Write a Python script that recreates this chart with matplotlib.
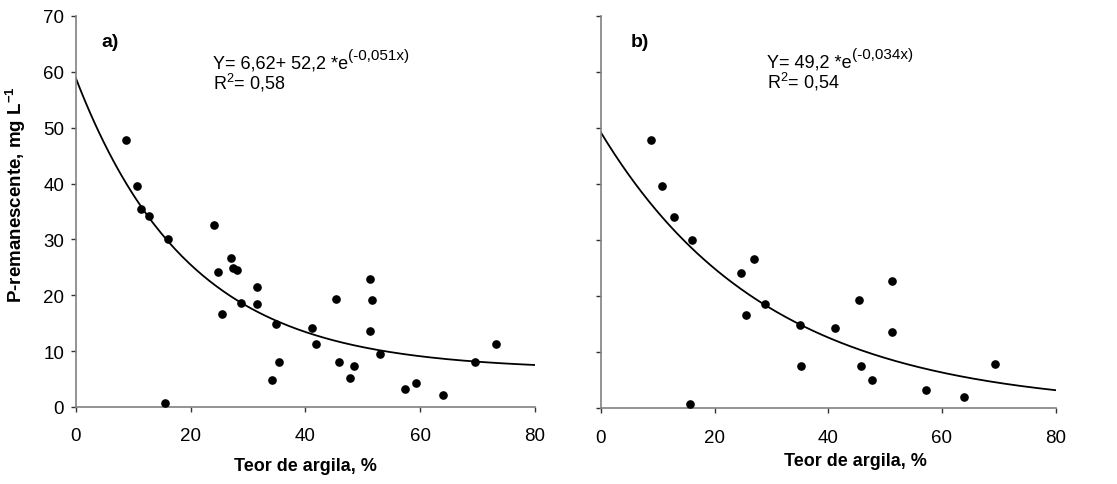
import numpy as np
from matplotlib import pyplot as plt
from matplotlib.transforms import offset_copy

plt.rcParams['font.family'] = ['Liberation Sans', 'DejaVu Sans']
plt.rcParams['mathtext.fontset'] = 'custom'
plt.rcParams['mathtext.rm'] = 'Liberation Sans'
plt.rcParams['mathtext.it'] = 'Liberation Sans'
plt.rcParams['mathtext.bf'] = 'Liberation Sans:bold'
plt.rcParams['mathtext.default'] = 'regular'

# panel a) - all samples
clay_a = [8.8, 10.6, 11.3, 12.8, 16.0, 15.6, 24.1, 24.7, 25.4, 27.0, 27.4,
          28.0, 28.8, 31.5, 31.5, 34.1, 34.9, 35.3, 41.1, 41.9, 45.4, 45.8,
          47.7, 48.4, 51.2, 51.6, 51.2, 52.9, 57.3, 59.3, 63.9, 69.5, 73.2]
prem_a = [47.8, 39.6, 35.5, 34.1, 30.0, 0.7, 32.6, 24.1, 16.6, 26.6, 24.8,
          24.5, 18.6, 21.5, 18.5, 4.8, 14.9, 8.0, 14.2, 11.2, 19.3, 8.0,
          5.1, 7.3, 22.9, 19.2, 13.6, 9.4, 3.2, 4.3, 2.1, 8.1, 11.2]
fit_a = (6.62, 52.2, 0.051)  # y = a + b*exp(-c*x)

# panel b)
clay_b = [8.8, 10.7, 12.8, 16.0, 15.7, 24.6, 25.5, 27.0, 28.8, 35.0,
          35.2, 41.1, 45.4, 45.7, 47.7, 51.2, 51.3, 57.2, 63.9, 69.4]
prem_b = [47.8, 39.6, 34.1, 30.0, 0.7, 24.2, 16.7, 26.7, 18.6, 14.9,
          7.6, 14.3, 19.3, 7.6, 5.1, 22.8, 13.7, 3.2, 2.1, 7.9]
fit_b = (0.0, 49.2, 0.034)

x_ticks = [0, 20, 40, 60, 80]
y_ticks = [0, 10, 20, 30, 40, 50, 60, 70]


def style_axes(ax, show_ylabels):
    ax.set_xlim(0, 80)
    ax.set_ylim(0, 70)
    ax.set_xticks(x_ticks)
    ax.set_yticks(y_ticks)
    for s in ['top', 'right']:
        ax.spines[s].set_visible(False)
    for s in ['left', 'bottom']:
        ax.spines[s].set_color('#808080')
        ax.spines[s].set_linewidth(1.2)
    ax.tick_params(direction='out', length=3.6, width=1, color='#333333',
                   labelsize=13.5)
    ax.tick_params(axis='x', pad=11)
    ax.tick_params(axis='y', pad=5)
    if not show_ylabels:
        ax.set_yticklabels([])
    ax.set_xlabel('Teor de argila, %', fontsize=13, fontweight='bold', labelpad=9)


def draw_panel(ax, clay, prem, fit):
    a, b, c = fit
    xx = np.linspace(0, 80, 200)
    ax.plot(xx, a + b * np.exp(-c * xx), color='black', lw=1.3, zorder=2)
    ax.plot(clay, prem, 'o', color='black', markersize=5.2, zorder=3, clip_on=False)


def equation(ax, x, y, main, sup, r2):
    t = ax.text(x, y, main, fontsize=13, va='baseline')
    fig.canvas.draw()
    w = t.get_window_extent().width
    tr = offset_copy(ax.transData, fig=fig, x=w * 72 / fig.dpi, y=6, units='points')
    ax.text(x, y, sup, fontsize=11, va='baseline', transform=tr)
    ax.text(x, y - 3.7, r2, fontsize=13, va='baseline')


fig = plt.figure(figsize=(11.17, 4.85), dpi=100)
ax1 = fig.add_axes([0.068, 0.159, 0.411, 0.806])
ax2 = fig.add_axes([0.538, 0.156, 0.407, 0.809])

draw_panel(ax1, clay_a, prem_a, fit_a)
style_axes(ax1, True)
ax1.set_ylabel(r'P-remanescente, mg L$\mathbf{^{-1}}$', fontsize=13.5,
               fontweight='bold')
ax1.yaxis.set_label_coords(-0.105, 0.547)
ax1.text(4.5, 65.5, 'a)', fontsize=14, fontweight='bold', va='center')
equation(ax1, 23.9, 60.8, 'Y= 6,62+ 52,2 *e', '(-0,051x)', r'R$^{2}$= 0,58')

draw_panel(ax2, clay_b, prem_b, fit_b)
style_axes(ax2, False)
ax2.xaxis.set_label_coords(0.56, -0.11)
ax2.text(5.3, 65.5, 'b)', fontsize=14, fontweight='bold', va='center')
equation(ax2, 29.2, 61.0, 'Y= 49,2 *e', '(-0,034x)', r'R$^{2}$= 0,54')

fig.savefig('out.png', dpi=100)
